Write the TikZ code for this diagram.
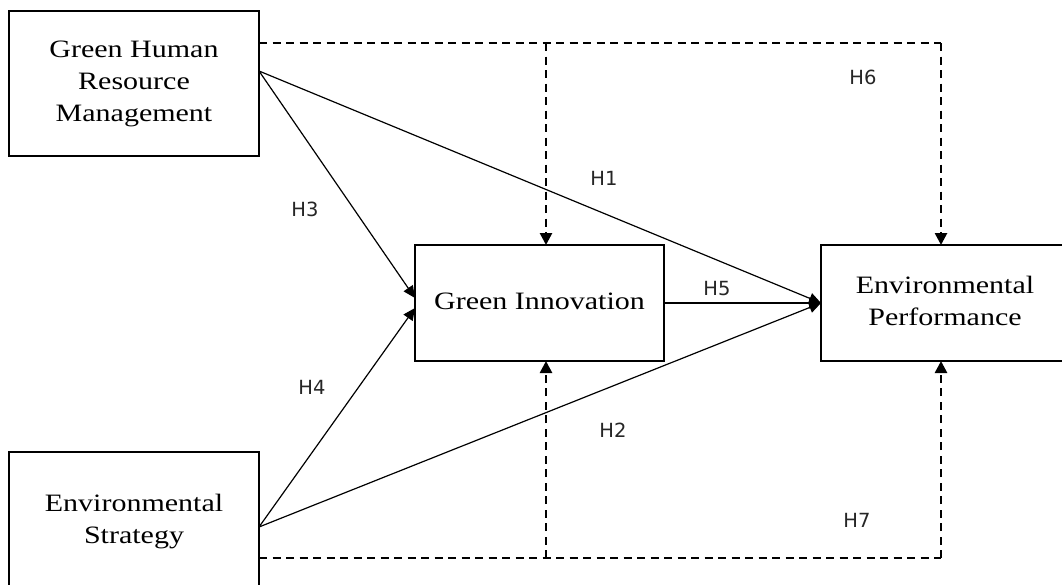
\documentclass[tikz,border=0pt]{standalone}
\usepackage{fontspec}
\setmainfont{Liberation Serif}
\newfontfamily\labfont{DejaVu Sans}
\usetikzlibrary{arrows.meta}
\newcommand{\bxtext}[1]{\scalebox{1.2}[1]{\fontsize{25}{32}\selectfont\begin{tabular}{@{}c@{}}#1\end{tabular}}}
\tikzset{
  boxnode/.style={draw, line width=1.3pt, inner sep=0pt, outer sep=0pt},
  solidarr/.style={line width=1.2pt, -{Triangle[length=12pt,width=11pt]}},
  dasharr/.style={line width=2.6pt, dash pattern=on 8pt off 5.5pt, -{Triangle[length=12pt,width=12pt]}},
  dashline/.style={line width=2.6pt, dash pattern=on 8pt off 5.5pt},
  hlab/.style={font=\labfont\fontsize{19.5}{23}\selectfont, text=black!85, inner sep=0pt}
}
\begin{document}
\begin{tikzpicture}[x=1pt,y=-1pt]
\useasboundingbox (0,0) rectangle (1062,584);
\fill[white] (0,0) rectangle (1062,584);
\clip (0,0) rectangle (1062,584);
\node[boxnode, minimum width=250pt, minimum height=145pt] (ghrm) at (134,83.5) {\bxtext{Green Human\\Resource\\Management}};
\node[boxnode, minimum width=249pt, minimum height=116pt] (gi) at (539.5,303) {\bxtext{Green Innovation}};
\node[boxnode, minimum width=248pt, minimum height=116pt] (ep) at (945,303) {\bxtext{Environmental\\Performance}};
\node[boxnode, minimum width=250pt, minimum height=138pt] (es) at (134,521) {\bxtext{Environmental\\Strategy}};
\coordinate (t1) at (546,43);
\coordinate (t2) at (941,43);
\coordinate (b1) at (546,558);
\coordinate (b2) at (941,558);
% dashed mediation lines
\draw[dashline] (ghrm.east |- t1) -- (t2);
\draw[dasharr] (t1) -- (t1 |- gi.north);
\draw[dasharr] (t2) -- (t2 |- ep.north);
\draw[dashline] (es.east |- b1) -- (b2);
\draw[dasharr] (b1) -- (b1 |- gi.south);
\draw[dasharr] (b2) -- (b2 |- ep.south);
% solid paths
\coordinate (gs) at ([yshift=12.5pt]ghrm.east);
\coordinate (ess) at ([yshift=-6pt]es.east);
\draw[solidarr] (gs) -- ([yshift=5pt]gi.west);
\draw[solidarr] (ess) -- ([yshift=-5pt]gi.west);
\draw[solidarr] (gs) -- (ep.west);
\draw[solidarr] (ess) -- (ep.west);
\draw[solidarr] (gi.east) -- (ep.west);
% labels
\node[hlab] (h1) at (604,178) {H1};
\node[hlab] (h2) at (613,430) {H2};
\node[hlab] (h3) at (305,209) {H3};
\node[hlab] (h4) at (312,387) {H4};
\node[hlab] (h5) at (717,289) {H5};
\node[hlab] (h6) at (863,77) {H6};
\node[hlab] (h7) at (857,520) {H7};
\end{tikzpicture}
\end{document}
